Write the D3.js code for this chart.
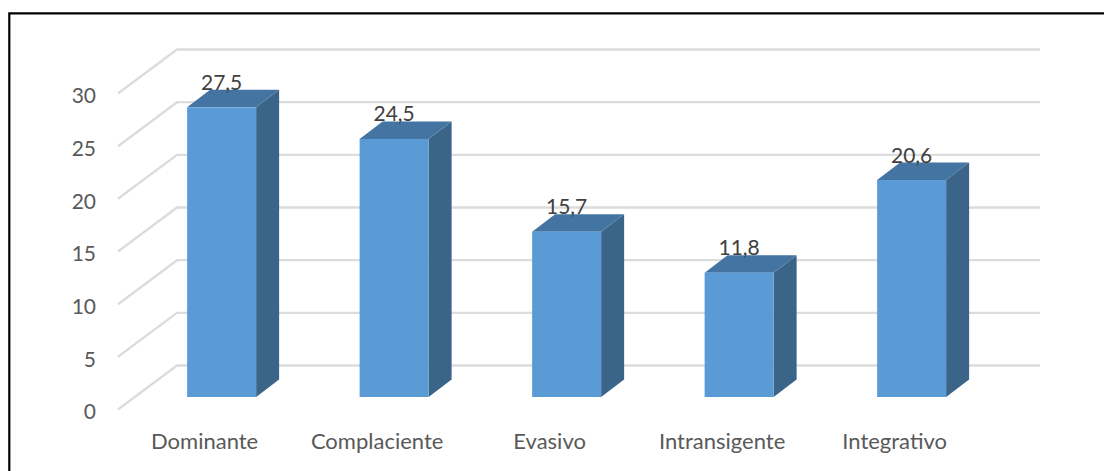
<!DOCTYPE html>
<html>
  <head>
    <meta charset="utf-8" />
    <title>Estilos</title>
    <script src="https://cdn.jsdelivr.net/npm/d3@7"></script>
    <style>
      html, body { margin: 0; padding: 0; background: #fff; }
      svg { display: block; }
      text { font-family: Lato, "Open Sans", sans-serif; }
    </style>
  </head>

  <body>
    <script>
      // Data
      const categorias = ["Dominante", "Complaciente", "Evasivo", "Intransigente", "Integrativo"];
      const valores = [27.5, 24.5, 15.7, 11.8, 20.6];
      const yTicks = [0, 5, 10, 15, 20, 25, 30];

      const w = 1104;
      const h = 471;

      // Size of the fake 3d: back wall offset and bar depth
      const wallDx = 59;
      const wallDy = 44;
      const barDx = 23;
      const barDy = 17.5;
      const floorLift = 12.5; // bars stand a little behind the front edge of the floor
      const wallRight = 1040;

      const svg = d3.select("body").append("svg").attr("width", w).attr("height", h);

      // Frame, only top and left sides are visible
      svg.append("path")
        .attr("d", "M9.3,471V13.3H1104")
        .attr("fill", "none")
        .attr("stroke", "#000")
        .attr("stroke-width", 2.2);

      const y = d3.scaleLinear().domain([0, 30]).range([409.5, 93.5]);
      const x = d3.scaleBand()
        .domain(categorias)
        .range([144, 989.25])
        .paddingInner(0.6)
        .paddingOuter(0.25);

      // Gridlines run along the side wall, then along the back wall
      svg.append("g")
        .selectAll("path")
        .data(yTicks)
        .enter()
        .append("path")
        .attr("d", function (d) {
          return `M118,${y(d)}L${118 + wallDx},${y(d) - wallDy}H${wallRight}`;
        })
        .attr("fill", "none")
        .attr("stroke", "#dcdcdc")
        .attr("stroke-width", 2.4);

      // Y axis
      const axisY = svg.append("g")
        .attr("transform", "translate(96,2.5)")
        .call(d3.axisLeft(y).tickValues(yTicks).tickSize(0).tickPadding(0));
      axisY.select(".domain").remove();
      axisY.selectAll("text")
        .attr("font-size", 21)
        .attr("fill", "#595959")
        .style("font-family", "Lato, sans-serif");

      // Category labels sit on the front edge of the floor
      const axisX = svg.append("g")
        .attr("transform", "translate(-17,433)")
        .call(d3.axisBottom(x).tickSize(0).tickPadding(0));
      axisX.select(".domain").remove();
      axisX.selectAll("text")
        .attr("font-size", 22)
        .attr("fill", "#595959")
        .style("font-family", "Lato, sans-serif");

      const barras = svg.append("g")
        .selectAll("g")
        .data(valores)
        .enter()
        .append("g");

      function x0(d, i) {
        return x(categorias[i]);
      }
      function techo(d) {
        return y(d) - floorLift;
      }
      const base = y(0) - floorLift;

      // Side face
      barras.append("path")
        .attr("fill", "#3a6488")
        .attr("d", function (d, i) {
          const r = x0(d, i) + x.bandwidth();
          return `M${r},${techo(d)}l${barDx},${-barDy}V${base - barDy}L${r},${base}Z`;
        });

      // Top face
      barras.append("path")
        .attr("fill", "#4475a2")
        .attr("d", function (d, i) {
          const l = x0(d, i);
          return `M${l},${techo(d)}l${barDx},${-barDy}h${x.bandwidth()}l${-barDx},${barDy}Z`;
        });

      // Front face
      barras.append("rect")
        .attr("x", x0)
        .attr("y", techo)
        .attr("width", x.bandwidth())
        .attr("height", function (d) {
          return base - techo(d);
        })
        .attr("fill", "#5b9bd5");

      // Value labels use a decimal comma
      const coma = d3.formatLocale({ decimal: ",", thousands: ".", grouping: [3], currency: ["", ""] }).format(".1f");
      barras.append("text")
        .text(function (d) {
          return coma(d);
        })
        .attr("x", function (d, i) {
          return x0(d, i) + x.bandwidth() / 2;
        })
        .attr("y", function (d) {
          return techo(d) - 17.5;
        })
        .attr("text-anchor", "middle")
        .attr("font-size", 21)
        .attr("fill", "#404040");
    </script>
  </body>
</html>
